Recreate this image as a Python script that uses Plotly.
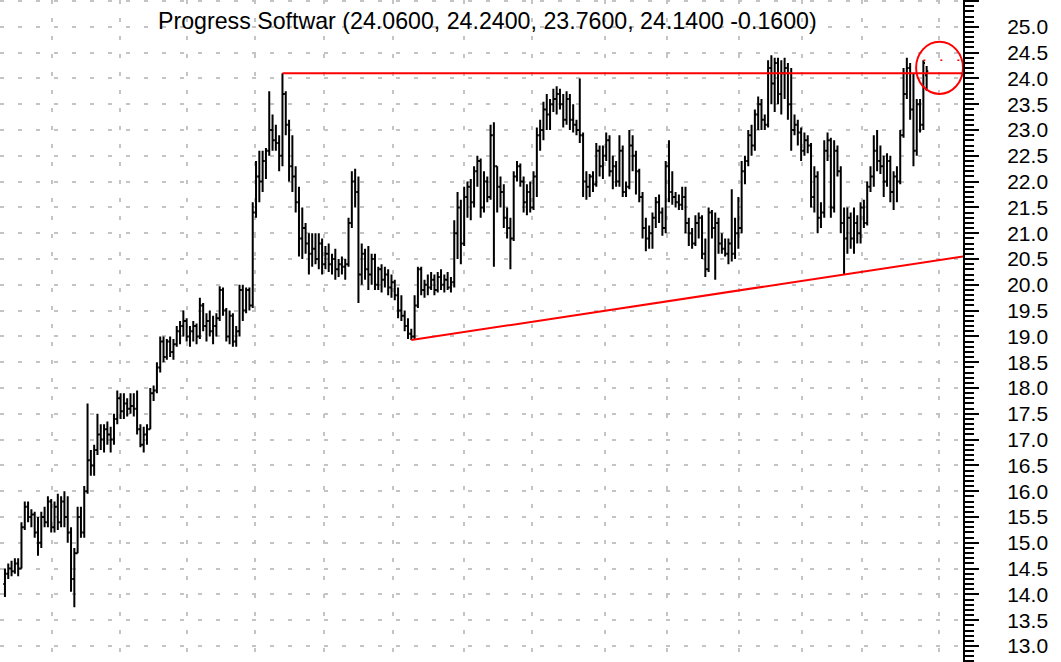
import plotly.graph_objects as go

# ---------------- data ----------------
title_text = "Progress Softwar (24.0600, 24.2400, 23.7600, 24.1400 -0.1600)"

opens = [
    14.2, 14.4, 14.5, 14.45, 14.6, 14.5, 15.3, 15.7, 15.5, 15.55,
    15.2, 15.0, 15.5, 15.4, 15.8, 15.3, 15.7, 15.4, 15.8, 15.5,
    15.2, 14.3, 14.8, 15.5, 15.2, 16.0, 16.6, 16.5, 16.8, 17.1,
    17.0, 17.2, 17.1, 17.0, 17.4, 17.8, 17.55, 17.7, 17.6, 17.65,
    17.6, 17.2, 16.9, 17.1, 17.2, 17.9, 17.95, 18.4, 18.9, 18.6,
    18.9, 18.7, 18.85, 19.1, 19.2, 19.3, 19.0, 19.1, 19.2, 19.0,
    19.6, 19.2, 19.3, 19.1, 19.2, 19.35, 19.9, 19.5, 19.0, 19.4,
    18.9, 19.1, 19.9, 19.5, 19.9, 19.6, 21.4, 22.1, 22.0, 22.4,
    22.6, 23.0, 22.8, 22.75, 22.5, 23.7, 23.1, 22.3, 22.1, 21.6,
    20.9, 21.1, 20.8, 20.6, 20.7, 20.5, 20.8, 20.4, 20.6, 20.4,
    20.5, 20.3, 20.4, 20.35, 20.4, 21.2, 22.0, 21.8, 20.2, 20.6,
    20.3, 20.2, 20.5, 20.0, 20.3, 20.1, 20.2, 19.95, 20.05, 19.8,
    19.5, 19.4, 19.2, 19.05, 19.0, 19.6, 20.3, 19.9, 20.0, 19.95,
    20.1, 19.9, 20.15, 20.0, 20.1, 19.95, 20.05, 21.0, 21.5, 20.8,
    21.7, 21.9, 21.6, 22.2, 22.4, 21.5, 22.0, 21.7, 22.9, 22.3,
    21.9, 21.8, 21.3, 21.1, 20.9, 22.1, 22.3, 22.0, 21.6, 21.8,
    21.5, 22.1, 22.9, 23.0, 23.4, 23.3, 23.5, 23.6, 23.7, 23.5,
    23.2, 23.6, 23.2, 23.1, 23.0, 22.9, 22.0, 21.9, 22.1, 21.95,
    22.6, 22.3, 22.5, 22.8, 22.2, 22.3, 22.0, 22.6, 21.8, 21.9,
    22.7, 22.5, 22.2, 21.7, 21.1, 20.9, 21.0, 21.3, 21.6, 21.4,
    21.1, 22.3, 21.8, 21.7, 21.6, 21.55, 21.7, 21.2, 21.0, 20.8,
    21.2, 21.3, 20.6, 20.3, 21.4, 21.1, 21.2, 20.8, 20.7, 20.6,
    20.8, 20.6, 21.0, 21.1, 22.2, 22.4, 22.9, 22.7, 23.3, 23.5,
    23.2, 23.1, 24.2, 23.9, 24.3, 23.7, 24.1, 24.2, 23.5, 23.0,
    23.1, 22.95, 22.6, 22.8, 22.7, 21.7, 22.1, 21.3, 21.4, 22.6,
    22.8, 21.5, 22.6, 22.2, 21.2, 20.9, 21.3, 20.9, 21.2, 21.0,
    21.5, 21.2, 21.9, 22.1, 22.6, 22.4, 22.3, 22.0, 22.4, 21.8,
    22.1, 22.0, 22.9, 23.7, 24.2, 23.4, 22.6, 23.5, 23.1, 24.06,
]

highs = [
    14.5, 14.6, 14.65, 14.7, 14.7, 15.4, 15.8, 15.8, 15.65, 15.6,
    15.5, 15.6, 15.7, 15.9, 15.85, 15.8, 15.95, 15.9, 16.0, 15.9,
    15.3, 14.9, 15.7, 15.7, 16.1, 17.7, 16.8, 16.9, 17.5, 17.3,
    17.3, 17.35, 17.25, 17.5, 17.95, 17.9, 17.9, 17.8, 17.9, 17.9,
    17.95, 17.3, 17.25, 17.3, 18.0, 18.05, 18.5, 19.0, 19.0, 18.95,
    19.0, 18.95, 19.2, 19.3, 19.5, 19.35, 19.2, 19.3, 19.25, 19.75,
    19.65, 19.45, 19.5, 19.4, 19.45, 19.97, 19.95, 19.55, 19.5, 19.45,
    19.2, 20.0, 20.0, 19.95, 19.95, 21.6, 22.4, 22.6, 22.6, 22.65,
    23.75, 23.3, 23.1, 22.9, 24.1, 23.75, 23.2, 22.9, 22.3, 21.9,
    21.5, 21.2, 21.0, 21.0, 21.0, 21.0, 20.9, 20.75, 20.8, 20.6,
    20.7, 20.5, 20.55, 20.5, 21.3, 22.2, 22.25, 22.1, 20.8, 20.7,
    20.75, 20.6, 20.6, 20.35, 20.4, 20.35, 20.3, 20.2, 20.1, 19.95,
    19.8, 19.5, 19.35, 19.15, 19.8, 20.35, 20.35, 20.1, 20.2, 20.25,
    20.2, 20.25, 20.3, 20.2, 20.25, 20.15, 21.25, 21.8, 21.65, 21.9,
    22.0, 22.05, 22.3, 22.5, 22.45, 22.2, 22.1, 23.1, 23.15, 22.3,
    22.1, 21.95, 21.5, 21.3, 22.2, 22.4, 22.35, 22.1, 21.95, 22.0,
    22.2, 23.05, 23.2, 23.55, 23.7, 23.6, 23.8, 23.85, 23.8, 23.7,
    23.75, 23.7, 23.5, 23.2, 24.0, 22.95, 22.2, 22.15, 22.2, 22.75,
    22.7, 22.7, 22.95, 22.9, 22.5, 22.4, 22.9, 22.7, 22.0, 23.0,
    22.9, 22.6, 22.25, 21.8, 21.3, 21.15, 21.4, 21.7, 21.75, 21.5,
    22.4, 22.8, 22.2, 21.8, 21.75, 21.9, 21.9, 21.3, 21.1, 21.35,
    21.4, 21.35, 20.9, 21.5, 21.45, 21.4, 21.3, 21.0, 20.9, 20.9,
    21.85, 21.3, 21.7, 22.4, 22.5, 23.0, 23.1, 23.4, 23.65, 23.6,
    23.3, 24.35, 24.45, 24.4, 24.4, 24.35, 24.4, 24.3, 24.2, 23.3,
    23.2, 23.05, 22.95, 22.9, 22.75, 22.3, 22.2, 21.6, 22.8, 22.95,
    22.85, 22.8, 22.7, 22.3, 21.5, 21.5, 21.4, 21.5, 21.35, 21.6,
    21.65, 22.0, 22.3, 22.9, 23.0, 22.7, 22.5, 22.55, 22.5, 22.2,
    22.3, 23.0, 24.2, 24.4, 24.3, 24.1, 23.6, 23.6, 24.35, 24.24,
]

lows = [
    13.95, 14.3, 14.35, 14.4, 14.35, 14.5, 15.25, 15.4, 15.3, 15.1,
    14.75, 14.9, 15.3, 15.3, 15.2, 15.2, 15.25, 15.3, 15.3, 15.0,
    14.05, 13.75, 14.8, 15.1, 15.1, 15.95, 16.3, 16.3, 16.7, 16.8,
    16.75, 16.9, 16.75, 16.9, 17.3, 17.4, 17.4, 17.45, 17.5, 17.45,
    17.1, 16.85, 16.75, 16.9, 17.2, 17.75, 17.9, 18.3, 18.5, 18.55,
    18.6, 18.55, 18.8, 18.85, 19.0, 18.9, 18.8, 18.9, 18.85, 18.95,
    19.1, 18.9, 19.0, 18.85, 19.0, 19.3, 19.4, 18.9, 18.85, 18.8,
    18.8, 19.0, 19.3, 19.45, 19.5, 19.55, 21.3, 21.6, 21.8, 22.05,
    22.5, 22.6, 22.6, 22.2, 22.3, 22.9, 22.0, 21.8, 21.4, 20.55,
    20.5, 20.6, 20.2, 20.35, 20.4, 20.3, 20.2, 20.3, 20.25, 20.2,
    20.1, 20.15, 20.2, 20.1, 20.35, 21.1, 21.5, 19.65, 20.0, 20.1,
    19.9, 20.0, 19.9, 19.9, 19.85, 19.95, 19.8, 19.75, 19.7, 19.35,
    19.3, 19.1, 18.95, 18.93, 18.95, 19.55, 19.8, 19.75, 19.8, 19.9,
    19.8, 19.85, 19.9, 19.85, 19.9, 19.85, 19.95, 20.5, 20.4, 20.75,
    21.3, 21.25, 21.5, 21.9, 21.3, 21.4, 21.6, 21.65, 20.35, 21.4,
    21.5, 21.1, 20.9, 20.3, 20.85, 22.0, 21.9, 21.4, 21.35, 21.4,
    21.45, 21.7, 22.6, 22.8, 23.0, 23.0, 23.35, 23.3, 23.4, 23.05,
    23.1, 23.0, 22.95, 22.9, 22.75, 21.7, 21.65, 21.7, 21.8, 21.9,
    22.1, 22.05, 22.4, 22.1, 21.85, 21.9, 21.9, 21.7, 21.7, 21.85,
    22.2, 21.75, 21.6, 20.9, 20.65, 20.7, 20.7, 21.1, 21.2, 20.95,
    21.0, 21.6, 21.55, 21.5, 21.45, 21.45, 21.0, 20.75, 20.7, 20.75,
    20.9, 20.5, 20.15, 20.25, 20.9, 20.1, 20.6, 20.6, 20.55, 20.4,
    20.45, 20.5, 20.7, 21.0, 21.95, 22.3, 22.5, 22.6, 23.0, 23.0,
    23.0, 23.05, 23.5, 23.35, 23.5, 23.3, 23.6, 23.2, 22.6, 22.9,
    22.7, 22.4, 22.5, 22.55, 21.5, 21.4, 21.0, 21.1, 21.3, 22.4,
    21.3, 21.4, 22.1, 21.0, 20.2, 20.6, 20.7, 20.6, 20.8, 20.8,
    21.1, 21.15, 21.8, 21.9, 22.2, 22.15, 21.7, 21.9, 21.6, 21.45,
    21.6, 21.95, 22.85, 23.6, 23.2, 22.3, 22.5, 22.95, 23.0, 23.76,
]

closes = [
    14.4, 14.5, 14.45, 14.6, 14.5, 15.3, 15.7, 15.5, 15.55, 15.2,
    15.0, 15.5, 15.4, 15.8, 15.3, 15.7, 15.4, 15.8, 15.5, 15.2,
    14.3, 14.8, 15.5, 15.2, 16.0, 16.6, 16.5, 16.8, 17.1, 17.0,
    17.2, 17.1, 17.0, 17.4, 17.8, 17.55, 17.7, 17.6, 17.65, 17.6,
    17.2, 16.9, 17.1, 17.2, 17.9, 17.95, 18.4, 18.9, 18.6, 18.9,
    18.7, 18.85, 19.1, 19.2, 19.3, 19.0, 19.1, 19.2, 19.0, 19.6,
    19.2, 19.3, 19.1, 19.2, 19.35, 19.9, 19.5, 19.0, 19.4, 18.9,
    19.1, 19.9, 19.5, 19.9, 19.6, 21.4, 22.1, 22.0, 22.4, 22.6,
    23.0, 22.8, 22.75, 22.5, 23.7, 23.1, 22.3, 22.1, 21.6, 20.9,
    21.1, 20.8, 20.6, 20.7, 20.5, 20.8, 20.4, 20.6, 20.4, 20.5,
    20.3, 20.4, 20.35, 20.4, 21.2, 22.0, 21.8, 20.2, 20.6, 20.3,
    20.2, 20.5, 20.0, 20.3, 20.1, 20.2, 19.95, 20.05, 19.8, 19.5,
    19.4, 19.2, 19.05, 19.0, 19.6, 20.3, 19.9, 20.0, 19.95, 20.1,
    19.9, 20.15, 20.0, 20.1, 19.95, 20.05, 21.0, 21.5, 20.8, 21.7,
    21.9, 21.6, 22.2, 22.4, 21.5, 22.0, 21.7, 22.9, 22.3, 21.9,
    21.8, 21.3, 21.1, 20.9, 22.1, 22.3, 22.0, 21.6, 21.8, 21.5,
    22.1, 22.9, 23.0, 23.4, 23.3, 23.5, 23.6, 23.7, 23.5, 23.2,
    23.6, 23.2, 23.1, 23.0, 22.9, 22.0, 21.9, 22.1, 21.95, 22.6,
    22.3, 22.5, 22.8, 22.2, 22.3, 22.0, 22.6, 21.8, 21.9, 22.7,
    22.5, 22.2, 21.7, 21.1, 20.9, 21.0, 21.3, 21.6, 21.4, 21.1,
    22.3, 21.8, 21.7, 21.6, 21.55, 21.7, 21.2, 21.0, 20.8, 21.2,
    21.3, 20.6, 20.3, 21.4, 21.1, 21.2, 20.8, 20.7, 20.6, 20.8,
    20.6, 21.0, 21.1, 22.2, 22.4, 22.9, 22.7, 23.3, 23.5, 23.2,
    23.1, 24.2, 23.9, 24.3, 23.7, 24.1, 24.2, 23.5, 23.0, 23.1,
    22.95, 22.6, 22.8, 22.7, 21.7, 22.1, 21.3, 21.4, 22.6, 22.8,
    21.5, 22.6, 22.2, 21.2, 20.9, 21.3, 20.9, 21.2, 21.0, 21.5,
    21.2, 21.9, 22.1, 22.6, 22.4, 22.3, 22.0, 22.4, 21.8, 22.1,
    22.0, 22.9, 23.7, 24.2, 23.4, 22.6, 23.5, 23.1, 24.3, 24.14,
]

# month boundaries (bar positions of the dotted vertical grid)
month_starts = [14.2, 34.8, 55.2, 75.8, 96.7, 117.6, 138.8, 159.4,
                181.5, 200.3, 222.1, 241.2, 259.4, 282.7]

# trend-line anchors (bar indices)
resistance_bar = 84          # high of this bar
support_bars = [123, 254]    # lows of these bars
marker_level = 24.35         # small red dotted level inside the circle

bars = list(range(len(closes)))

# ---------------- figure ----------------
X_MIN, X_MAX = -1.5, 290.0
Y_MIN, Y_MAX = 12.69, 25.52

fig = go.Figure()
fig.add_trace(go.Ohlc(
    x=bars, open=opens, high=highs, low=lows, close=closes,
    increasing=dict(line=dict(color="black", width=2)),
    decreasing=dict(line=dict(color="black", width=2)),
    tickwidth=0.5, hoverinfo="skip", showlegend=False,
))

res_y = highs[resistance_bar]
s0, s1 = support_bars
slope = (lows[s1] - lows[s0]) / (s1 - s0)
sup_end = lows[s0] + slope * (X_MAX - s0)

red = "#ff0000"
shapes = [
    dict(type="line", xref="x", yref="y", x0=resistance_bar, x1=X_MAX,
         y0=res_y, y1=res_y, line=dict(color=red, width=2)),
    dict(type="line", xref="x", yref="y", x0=s0, x1=X_MAX,
         y0=lows[s0], y1=sup_end, line=dict(color=red, width=2)),
    dict(type="circle", xref="x", yref="y", x0=275.8, x1=290.0,
         y0=23.70, y1=24.71, line=dict(color=red, width=2)),
    dict(type="line", xref="x", yref="y", x0=bars[-1] - 1, x1=X_MAX,
         y0=marker_level, y1=marker_level,
         line=dict(color=red, width=1.5, dash="2px,15px")),
]

font_family = "Liberation Sans, Arial, sans-serif"

fig.update_layout(
    width=1061, height=662,
    margin=dict(l=0, r=98, t=0, b=0, pad=0),
    paper_bgcolor="white", plot_bgcolor="white",
    showlegend=False,
    shapes=shapes,
    font=dict(family=font_family, color="black"),
    annotations=[dict(
        text=title_text, xref="paper", yref="paper",
        x=0.506, y=0.969, xanchor="center", yanchor="middle",
        showarrow=False, font=dict(size=23.2, family=font_family, color="black"),
    )],
    xaxis=dict(
        range=[X_MIN, X_MAX], rangeslider=dict(visible=False),
        tickmode="array", tickvals=month_starts, showticklabels=False,
        ticks="", showgrid=True, gridcolor="#c4c4c4", gridwidth=1.5,
        griddash="4px,14px", zeroline=False, showline=False,
    ),
    yaxis=dict(
        range=[Y_MIN, Y_MAX], side="right",
        tickmode="linear", tick0=0, dtick=0.5, tickformat=".1f",
        ticks="outside", ticklen=14, tickwidth=2, tickcolor="black",
        ticklabelstandoff=24,
        tickfont=dict(size=21, family=font_family, color="black"),
        showline=True, linecolor="black", linewidth=2,
        showgrid=True, gridcolor="#c4c4c4", gridwidth=2,
        griddash="4px,14px", zeroline=False,
        minor=dict(dtick=0.1, ticks="outside", ticklen=9, tickwidth=1.5,
                   tickcolor="black", showgrid=False),
    ),
)

fig.write_html(
    "out.html",
    config={"displayModeBar": False},
    post_script="document.body.style.margin='0';document.body.style.padding='0';",
)
